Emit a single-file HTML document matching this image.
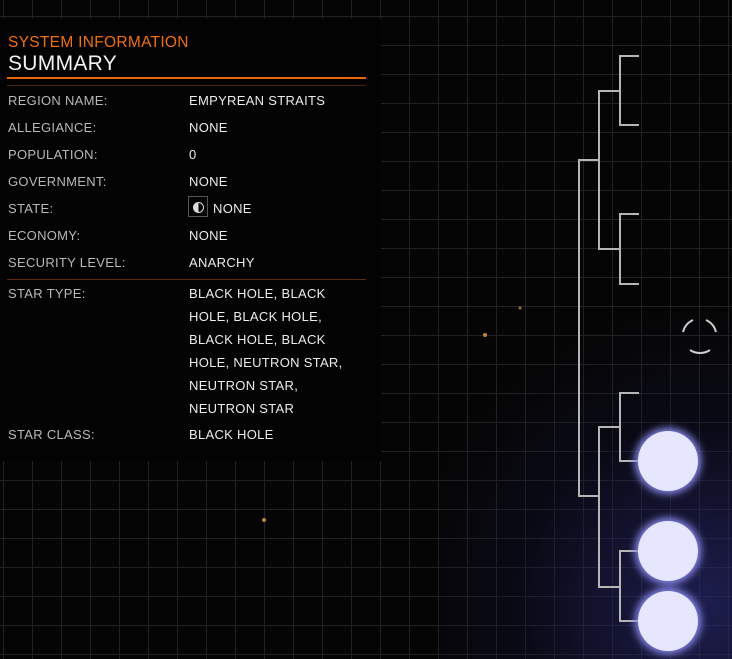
<!DOCTYPE html>
<html><head><style>
html,body{margin:0;width:732px;height:659px;overflow:hidden}
body{background:#050505;font-family:"Liberation Sans",sans-serif}
#w{position:relative;width:732px;height:659px;overflow:hidden}
.grid{position:absolute;left:0;top:0;width:732px;height:659px;
background-image:linear-gradient(#222 1px,transparent 1px),linear-gradient(90deg,#222 1px,transparent 1px);
background-size:29px 29px;background-position:0 16px,3px 0}
.glow{position:absolute;left:440px;top:300px;width:292px;height:359px;background:radial-gradient(circle at 90% 85%,rgba(40,40,110,.7),rgba(20,20,60,.3) 45%,transparent 75%)}
.panel{position:absolute;left:0;top:19px;width:381px;height:442px;background:#030303}
.t{position:absolute;white-space:nowrap;font-size:13px;letter-spacing:.3px}
.l{left:8px;color:#b8b8b8}.v{left:189px;color:#ececec}
</style></head><body><div id="w">
<div class="grid"></div>
<div class="glow"></div>
<div class="panel"></div>
<div class="t" style="left:8px;top:34px;font-size:15.5px;color:#f07010">SYSTEM INFORMATION</div>
<div class="t" style="left:8px;top:52px;font-size:21px;color:#f2f2f2">SUMMARY</div>
<div style="position:absolute;left:7px;top:77px;width:359px;height:2px;background:#e8650c"></div>
<div style="position:absolute;left:7px;top:85px;width:359px;height:1px;background:#4a2408"></div>
<div class="t l" style="top:93px">REGION NAME:</div><div class="t v" style="top:93px">EMPYREAN STRAITS</div>
<div class="t l" style="top:120px">ALLEGIANCE:</div><div class="t v" style="top:120px">NONE</div>
<div class="t l" style="top:147px">POPULATION:</div><div class="t v" style="top:147px">0</div>
<div class="t l" style="top:174px">GOVERNMENT:</div><div class="t v" style="top:174px">NONE</div>
<div class="t l" style="top:201px">STATE:</div>
<div style="position:absolute;left:188px;top:196px;width:20px;height:21px;border:1px solid #555;box-sizing:border-box"></div>
<div style="position:absolute;left:193px;top:202px;width:9px;height:9px;border-radius:50%;border:1px solid #ddd;background:linear-gradient(90deg,#ddd 50%,transparent 50%)"></div>
<div class="t v" style="top:201px;left:213px">NONE</div>
<div class="t l" style="top:228px">ECONOMY:</div><div class="t v" style="top:228px">NONE</div>
<div class="t l" style="top:255px">SECURITY LEVEL:</div><div class="t v" style="top:255px">ANARCHY</div>
<div style="position:absolute;left:7px;top:279px;width:359px;height:1px;background:#5a2c0c"></div>
<div class="t l" style="top:286px">STAR TYPE:</div>
<div class="t v" style="top:282px;line-height:23px">BLACK HOLE, BLACK<br>HOLE, BLACK HOLE,<br>BLACK HOLE, BLACK<br>HOLE, NEUTRON STAR,<br>NEUTRON STAR,<br>NEUTRON STAR</div>
<div class="t l" style="top:427px">STAR CLASS:</div><div class="t v" style="top:427px">BLACK HOLE</div>
<svg style="position:absolute;left:0;top:0" width="732" height="659">
<defs><filter id="g" x="-50%" y="-50%" width="200%" height="200%"><feGaussianBlur stdDeviation="4"/></filter></defs>
<g stroke="#b5b5b5" stroke-width="2" fill="none">
<path d="M639 56H620V125H639M620 91H599V249H620M639 214H620V284H639"/>
<path d="M599 160H579V496H599M639 393H620V461H639M620 427H599V587H620M639 551H620V621H639"/>
</g>
<g fill="#8a8af0" filter="url(#g)"><circle cx="668" cy="461" r="33"/><circle cx="668" cy="551" r="33"/><circle cx="668" cy="621" r="33"/></g>
<g fill="#e6e6ff"><circle cx="668" cy="461" r="30"/><circle cx="668" cy="551" r="30"/><circle cx="668" cy="621" r="30"/></g>
<g stroke="#ccc" stroke-width="2" fill="none">
<path d="M683 332A18 18 0 0 1 693 320"/><path d="M706 320A18 18 0 0 1 716 332"/><path d="M690 350A18 18 0 0 0 710 350"/>
</g>
<circle cx="485" cy="335" r="2" fill="#c08040"/><circle cx="264" cy="520" r="2" fill="#c08040"/><circle cx="520" cy="308" r="1.5" fill="#a07040"/>
</svg>
</div></body></html>
